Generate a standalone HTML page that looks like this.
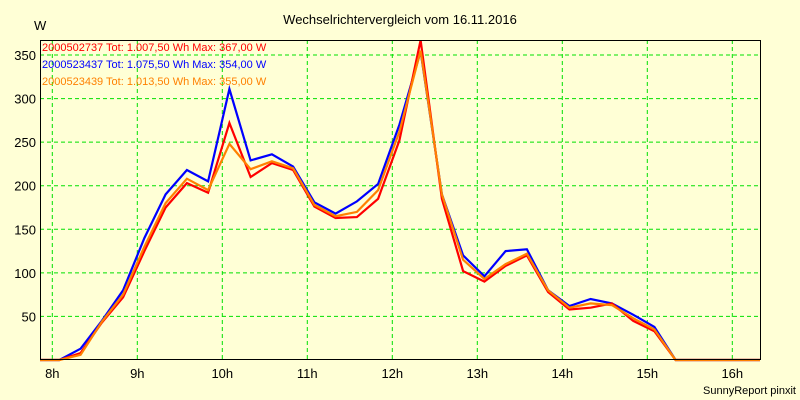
<!DOCTYPE html>
<html><head><meta charset="utf-8"><style>
body{margin:0;background:#ffffd6;}
svg{display:block;font-family:"Liberation Sans",sans-serif;}
</style></head><body>
<svg id="chart" width="800" height="400">
<rect x="0" y="0" width="800" height="400" fill="#ffffd6"/>
<text x="400" y="24" text-anchor="middle" font-size="13" fill="#000">Wechselrichtervergleich vom 16.11.2016</text>
<text x="34" y="30" font-size="13" fill="#000">W</text>
<text x="796" y="394" text-anchor="end" font-size="11" fill="#000">SunnyReport pinxit</text>
<g id="grid"></g>
<g id="series"></g>
<rect x="40.5" y="40.5" width="720" height="319" fill="none" stroke="#000" stroke-width="1"/>
<g id="legend" font-size="11">
<text x="42" y="51" fill="#ff0000">2000502737 Tot: 1.007,50 Wh Max: 367,00 W</text>
<text x="42" y="68" fill="#0000ff">2000523437 Tot: 1.075,50 Wh Max: 354,00 W</text>
<text x="42" y="85" fill="#ff8000">2000523439 Tot: 1.013,50 Wh Max: 355,00 W</text>
</g>
</svg>
<script>
const hours = [8,9,10,11,12,13,14,15,16];
const yTicks = [50,100,150,200,250,300,350];
const times = [8.083,8.333,8.583,8.833,9.083,9.333,9.583,9.833,10.083,10.333,10.583,10.833,11.083,11.333,11.583,11.833,12.083,12.333,12.583,12.833,13.083,13.333,13.583,13.833,14.083,14.333,14.583,14.833,15.083,15.333];
const blueVals = [0,13,45,80,140,190,218,205,311,229,236,222,181,168,182,202,270,354,190,120,96,125,127,80,62,70,65,52,38,0];
const redVals = [0,8,43,72,125,175,203,192,272,210,226,218,176,163,164,185,252,367,185,102,90,108,120,78,58,60,65,45,33,0];
const orangeVals = [0,6,44,75,130,180,208,195,248,219,228,220,178,165,170,195,262,355,190,115,93,110,122,80,60,65,63,48,35,0];
const NS="http://www.w3.org/2000/svg";
const X0=40,X1=760,Y0=360,YT=40;
function xs(t){return 52.3+(t-8)*85;}
function ys(v){return Y0-v*0.8714;}
const grid=document.getElementById('grid');
const svg=document.getElementById('chart');
hours.forEach(h=>{
  const l=document.createElementNS(NS,'line');
  l.setAttribute('x1',xs(h));l.setAttribute('x2',xs(h));l.setAttribute('y1',YT);l.setAttribute('y2',Y0);
  l.setAttribute('stroke','#00e000');l.setAttribute('stroke-dasharray','4,3');
  
  
  grid.appendChild(l);
  const t=document.createElementNS(NS,'text');
  t.setAttribute('x',xs(h));t.setAttribute('y',378);t.setAttribute('text-anchor','middle');t.setAttribute('font-size','13');
  t.textContent=h+'h';
  
  
  svg.appendChild(t);
});
yTicks.forEach(v=>{
  const l=document.createElementNS(NS,'line');
  l.setAttribute('x1',X0);l.setAttribute('x2',X1);l.setAttribute('y1',ys(v));l.setAttribute('y2',ys(v));
  l.setAttribute('stroke','#00e000');l.setAttribute('stroke-dasharray','4,3');
  
  
  grid.appendChild(l);
  const t=document.createElementNS(NS,'text');
  t.setAttribute('x',36);t.setAttribute('y',ys(v)+5);t.setAttribute('text-anchor','end');t.setAttribute('font-size','13');
  t.textContent=v;
  
  
  svg.appendChild(t);
});
const sg=document.getElementById('series');
function drawSeries(vals,color,name){
  let pts=[[X0,ys(0)]];
  times.forEach((t,i)=>pts.push([xs(t),ys(vals[i])]));
  pts.push([X1,ys(0)]);
  const p=document.createElementNS(NS,'polyline');
  p.setAttribute('points',pts.map(a=>a[0].toFixed(1)+','+a[1].toFixed(1)).join(' '));
  p.setAttribute('fill','none');p.setAttribute('stroke',color);p.setAttribute('stroke-width','2.2');
  
  
  sg.appendChild(p);
}
drawSeries(blueVals,'#0000ff','series-2000523437');
drawSeries(redVals,'#ff0000','series-2000502737');
drawSeries(orangeVals,'#ff8000','series-2000523439');
</script>
</body></html>
